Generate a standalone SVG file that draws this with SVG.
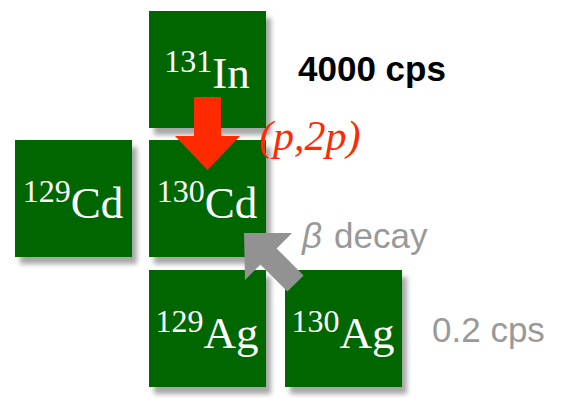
<svg xmlns="http://www.w3.org/2000/svg" width="563" height="398" viewBox="0 0 563 398">
<defs>
<filter id="sh" x="-20%" y="-20%" width="150%" height="150%">
<feGaussianBlur in="SourceAlpha" stdDeviation="2.5"/>
<feOffset dx="5" dy="7" result="b"/>
<feComponentTransfer><feFuncA type="linear" slope="0.35"/></feComponentTransfer>
<feMerge><feMergeNode/><feMergeNode in="SourceGraphic"/></feMerge>
</filter>
<style>
.box{fill:#006600;filter:url(#sh)}
.lab{font-family:"Liberation Serif","Times New Roman",serif;fill:#ffffff;text-anchor:middle}
.sup{font-size:32px}
.el{font-size:45px}
.grey{font-family:"Liberation Sans",Arial,sans-serif;fill:#999999;font-size:35px}
</style>
</defs>
<rect width="563" height="398" fill="#ffffff"/>
<g id="In131">
<rect class="box" x="149" y="11" width="117" height="117"/>
<text class="lab" x="207" y="88"><tspan class="sup" dy="-16">131</tspan><tspan class="el" dy="16">In</tspan></text>
</g>
<g id="Cd129">
<rect class="box" x="15" y="140" width="117" height="117"/>
<text class="lab" x="73" y="218"><tspan class="sup" dy="-16">129</tspan><tspan class="el" dy="16">Cd</tspan></text>
</g>
<g id="Cd130">
<rect class="box" x="149" y="140" width="117" height="117"/>
<text class="lab" x="207" y="218"><tspan class="sup" dy="-16">130</tspan><tspan class="el" dy="16">Cd</tspan></text>
</g>
<g id="Ag129">
<rect class="box" x="149" y="270" width="117" height="117"/>
<text class="lab" x="207" y="348"><tspan class="sup" dy="-16">129</tspan><tspan class="el" dy="16">Ag</tspan></text>
</g>
<g id="Ag130">
<rect class="box" x="285" y="270" width="117" height="117"/>
<text class="lab" x="343" y="348"><tspan class="sup" dy="-16">130</tspan><tspan class="el" dy="16">Ag</tspan></text>
</g>
<g id="connectors">
<polygon points="194,97 221,97 221,136 240,136 207.5,170 175,136 194,136" fill="#ff2a00"/>
<polygon points="244,233 292,233 276.6,248.4 303.6,275.4 287.4,291.6 260.4,264.6 245,280" fill="#929292"/>
</g>
<text x="298" y="81" font-family="'Liberation Sans',Arial,sans-serif" font-weight="bold" font-size="35" fill="#000000">4000 cps</text>
<text x="259" y="150" font-family="'Liberation Serif','Times New Roman',serif" font-style="italic" font-size="42" fill="#ff2a00">(p,2p)</text>
<text class="grey" x="302" y="248" font-family="'Liberation Serif','Times New Roman',serif" font-style="italic">β</text>
<text class="grey" x="334" y="248">decay</text>
<text class="grey" x="432" y="342">0.2 cps</text>
</svg>
